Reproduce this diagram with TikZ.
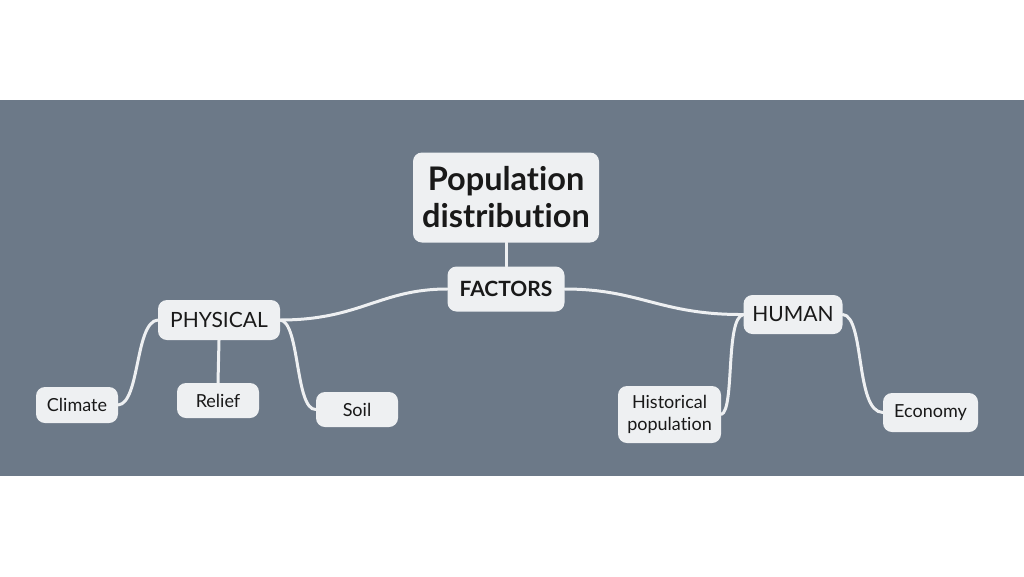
\documentclass[tikz,border=0pt]{standalone}
\usepackage{fontspec}
\setmainfont{Lato}[RawFeature={-liga}]
\definecolor{band}{RGB}{108,121,136}
\definecolor{boxfill}{RGB}{238,240,242}
\definecolor{ink}{RGB}{25,25,25}
\begin{document}
\begin{tikzpicture}[x=1pt,y=-1pt,
  topic/.style={draw=none,fill=boxfill,rounded corners=9pt,text=ink,inner sep=0pt,align=center,anchor=center},
  leaf/.style={topic,font=\fontsize{18}{22}\selectfont},
  link/.style={draw=boxfill,line width=3pt,line cap=round}]
\useasboundingbox (0,0) rectangle (1024,576);
\fill[white] (0,0) rectangle (1024,576);
\fill[band] (0,99.5) rectangle (1024,476);
\node[topic,minimum width=186pt,minimum height=90pt,font=\fontsize{32.5}{37}\selectfont\bfseries] (pd) at (506,197.5) {Population\\distribution};
\node[topic,minimum width=117pt,minimum height=45pt,font=\fontsize{21}{24}\selectfont\bfseries] (fa) at (506,289) {FACTORS};
\node[topic,minimum width=122pt,minimum height=40pt,font=\fontsize{21}{24}\selectfont] (ph) at (219,320) {PHYSICAL};
\node[topic,minimum width=99pt,minimum height=39pt,font=\fontsize{21}{24}\selectfont] (hu) at (793,314.5) {HUMAN};
\node[leaf,minimum width=82pt,minimum height=36pt] (cl) at (77,405) {Climate};
\node[leaf,minimum width=82pt,minimum height=35pt] (re) at (218,400.5) {Relief};
\node[leaf,minimum width=82pt,minimum height=35pt] (so) at (357,409.5) {Soil};
\node[leaf,minimum width=103pt,minimum height=57pt] (hi) at (669.5,414.5) {Historical\\population};
\node[leaf,minimum width=95pt,minimum height=39pt] (ec) at (930.5,412.5) {Economy};
% connectors
\draw[link] (pd.south) -- (fa.north);
\draw[link] (fa.west) .. controls (380,289) and (360,320) .. (ph.east);
\draw[link] (fa.east) .. controls (640,289) and (660,315) .. (hu.west);
\draw[link] (ph.west) .. controls (135,322) and (140,403) .. (cl.east);
\draw[link] (ph.south) -- (re.north);
\draw[link] (ph.east) .. controls (300,322) and (295,410) .. (so.west);
\draw[link] (hu.west) .. controls (725,318) and (735,410) .. (hi.east);
\draw[link] (hu.east) .. controls (865,316) and (855,412) .. (ec.west);
\end{tikzpicture}
\end{document}
